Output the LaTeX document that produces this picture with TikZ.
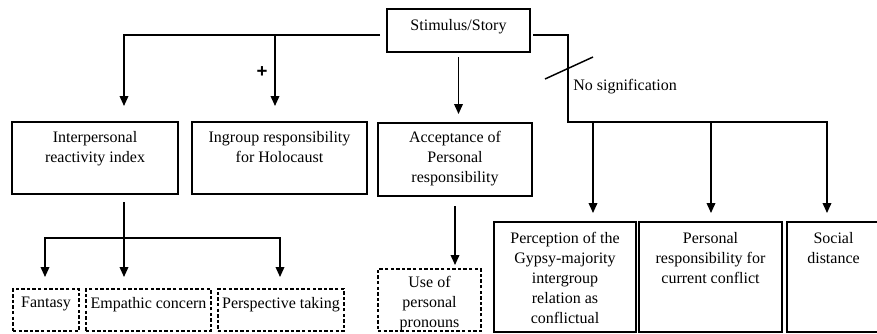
\documentclass[tikz,border=0pt]{standalone}
\usepackage{fontspec}
\setmainfont{Liberation Serif}
\newfontfamily\plusfont{Liberation Sans}
\usetikzlibrary{fit,arrows.meta}

\begin{document}
\begin{tikzpicture}[x=0.75pt,y=0.75pt,yscale=-1,xscale=1,
    box/.style={draw, line width=1.1pt, inner sep=0pt},
    dbox/.style={box, line width=1pt, dash pattern=on 2.6pt off 1.6pt},
    lbl/.style={inner sep=0pt, align=center, font=\fontsize{12}{15}\selectfont},
    ln/.style={line width=1.1pt},
    arr/.style={line width=1.1pt, -{Triangle[length=7.5pt,width=6.5pt]}}]
    \useasboundingbox (0,0) rectangle (877,333);
    \clip (0,0) rectangle (877,333);

    % Boxes
    \node[box, fit={(387,9) (530,52)}] (stim) {};
    \node[box, fit={(12,122) (178,194)}] (iri) {};
    \node[box, fit={(192,122) (367,194)}] (ingroup) {};
    \node[box, fit={(378,123) (532,196)}] (accept) {};
    \node[dbox, fit={(13,289) (79,331)}] (fantasy) {};
    \node[dbox, fit={(86,289) (211,331)}] (empathic) {};
    \node[dbox, fit={(218,289) (344,331)}] (persp) {};
    \node[dbox, fit={(378,269) (481,331)}] (pronouns) {};
    \node[box, fit={(494,222) (636,332)}] (percep) {};
    \node[box, fit={(639,222) (782,332)}] (persresp) {};
    \node[box, fit={(787,222) (880,332)}] (social) {};

    % Text Nodes
    \node[lbl, anchor=north] (stimT) at (stim.north |- 0,19) {Stimulus/Story};
    \node[lbl, anchor=north] (iriT) at (iri.north |- 0,131) {Interpersonal\\reactivity index};
    \node[lbl, anchor=north] (ingroupT) at (ingroup.north |- 0,131) {Ingroup responsibility\\for Holocaust};
    \node[lbl, anchor=north] (acceptT) at (accept.north |- 0,131) {Acceptance of\\Personal\\responsibility};
    \node[lbl, anchor=north] (fantasyT) at (fantasy.north |- 0,297) {Fantasy};
    \node[lbl, anchor=north] (empathicT) at (empathic.north |- 0,297) {Empathic concern};
    \node[lbl, anchor=north] (perspT) at (persp.north |- 0,297) {Perspective taking};
    \node[lbl, anchor=north] (pronounsT) at (pronouns.north |- 0,276) {Use of\\personal\\pronouns};
    \node[lbl, anchor=north] (percepT) at (percep.north |- 0,232) {Perception of the\\Gypsy-majority\\intergroup\\relation as\\conflictual};
    \node[lbl, anchor=north] (persrespT) at (persresp.north |- 0,232) {Personal\\responsibility for\\current conflict};
    \node[lbl, anchor=north] (socialT) at (social.north |- 0,232) {Social\\distance};
    \node[lbl, anchor=west] (nosig) at (573,87) {No signification};
    \node[inner sep=0pt, font=\plusfont\fontsize{14}{14}\selectfont\bfseries] (plus) at (262,72) {+};

    % Junctions
    \coordinate (sL) at (380,35);
    \coordinate (sR) at (533,35);
    \coordinate (sB) at (stim.south |- 0,57);
    \coordinate (jIng) at (275,35);
    \coordinate (jNo) at (568,122);
    \coordinate (iriOut) at (124,202);
    \coordinate (jIri) at (124,238);
    \coordinate (accOut) at (accept.south |- 0,206);

    % Straight Lines
    \draw[arr] (sL) -| (124,106);
    \draw[arr] (jIng) -- (275,106);
    \draw[arr] (sB) -- (stim.south |- 0,114);
    \draw[arr] (sR) -| (jNo) -| (827,213);
    \draw[arr] (593,122) -- (593,213);
    \draw[arr] (711,122) -- (711,213);
    \draw[ln] (545,79) -- (593,57);
    \draw[arr] (iriOut) -- (124,277);
    \draw[arr] (jIri) -| (45,277);
    \draw[arr] (jIri) -| (280,277);
    \draw[arr] (accOut) -- (accept.south |- 0,265);
\end{tikzpicture}
\end{document}
